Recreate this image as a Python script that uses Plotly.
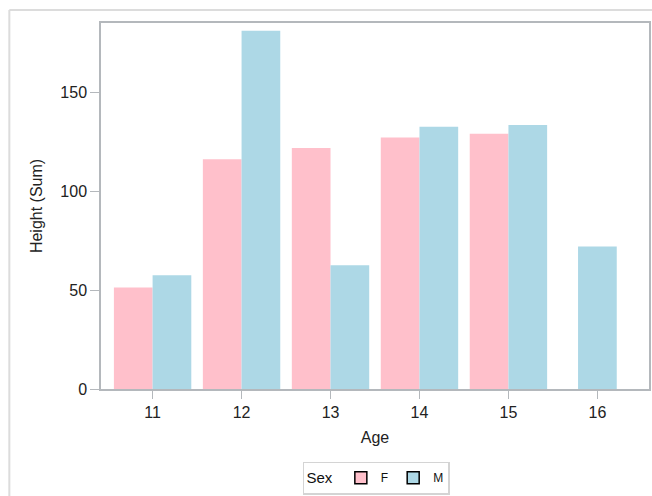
import plotly.graph_objects as go

ages = [11, 12, 13, 14, 15, 16]
f_ages = [11, 12, 13, 14, 15]
f_height_sum = [51.3, 116.1, 121.8, 127.1, 129.0]
m_ages = [11, 12, 13, 14, 15, 16]
m_height_sum = [57.5, 181.1, 62.5, 132.5, 133.5, 72.0]
y_ticks = [0, 50, 100, 150]

PINK = "#FFC0CB"
BLUE = "#ADD8E6"
BW = 0.435

W, H = 652, 496
L, T, R, B = 101, 23, 1, 106  # plot area: x 101..651, y 23..390

fig = go.Figure()
fig.add_trace(go.Bar(x=f_ages, y=f_height_sum, width=BW, offset=-BW,
                     marker=dict(color=PINK, line=dict(width=0)),
                     showlegend=False, name="F"))
m_offsets = [0 if a in f_ages else -BW / 2 for a in m_ages]
fig.add_trace(go.Bar(x=m_ages, y=m_height_sum, width=BW, offset=m_offsets,
                     marker=dict(color=BLUE, line=dict(width=0)),
                     showlegend=False, name="M"))
# legend entries
fig.add_trace(go.Bar(x=[None], y=[None], name="F",
                     marker=dict(color=PINK, line=dict(color="black", width=1.5))))
fig.add_trace(go.Bar(x=[None], y=[None], name="M",
                     marker=dict(color=BLUE, line=dict(color="black", width=1.5))))

pw = W - L - R
ph = H - T - B
def px_x(p):
    return (p - L) / pw
def px_y(p):
    return (H - B - p) / ph

axis_line = "#b4b8bc"
fig.update_layout(
    width=W, height=H,
    margin=dict(l=L, r=R, t=T, b=B),
    paper_bgcolor="white", plot_bgcolor="white",
    barmode="overlay",
    font=dict(family="Liberation Sans, Arial, sans-serif", color="#222222", size=14),
    xaxis=dict(range=[10.42, 16.58], tickvals=ages, ticktext=[str(a) for a in ages],
               showline=True, mirror=True, linecolor=axis_line, linewidth=1.5,
               ticks="outside", ticklen=8, tickcolor=axis_line, showgrid=False,
               zeroline=False, tickfont=dict(size=16),
               title=dict(text="Age", font=dict(size=16), standoff=12)),
    yaxis=dict(range=[0, 185], tickvals=y_ticks,
               showline=True, mirror=True, linecolor=axis_line, linewidth=1.5,
               ticks="outside", ticklen=9, tickcolor=axis_line, showgrid=False,
               zeroline=False, tickfont=dict(size=16),
               title=dict(text="Height (Sum)", font=dict(size=16), standoff=14)),
    legend=dict(orientation="h", x=px_x(377.5), xanchor="center", y=px_y(463), yanchor="top",
                title=dict(text="Sex", font=dict(size=15)),
                font=dict(size=12, color="#111111"), bordercolor="#d4d4d4", borderwidth=1.5,
                bgcolor="white", traceorder="normal"),
    shapes=[
        dict(type="line", xref="paper", yref="paper", x0=px_x(9), x1=px_x(W + 5),
             y0=px_y(10), y1=px_y(10), line=dict(color="#dcdcdc", width=2)),
        dict(type="line", xref="paper", yref="paper", x0=px_x(9), x1=px_x(9),
             y0=px_y(10), y1=px_y(H + 5), line=dict(color="#dcdcdc", width=2)),
    ],
)

fig.write_html(
    "out.html",
    config={"displayModeBar": False},
    post_script=(
        "document.body.style.margin='0';"
        "document.body.style.overflow='hidden';"
        "document.documentElement.style.overflow='hidden';"
    ),
)
